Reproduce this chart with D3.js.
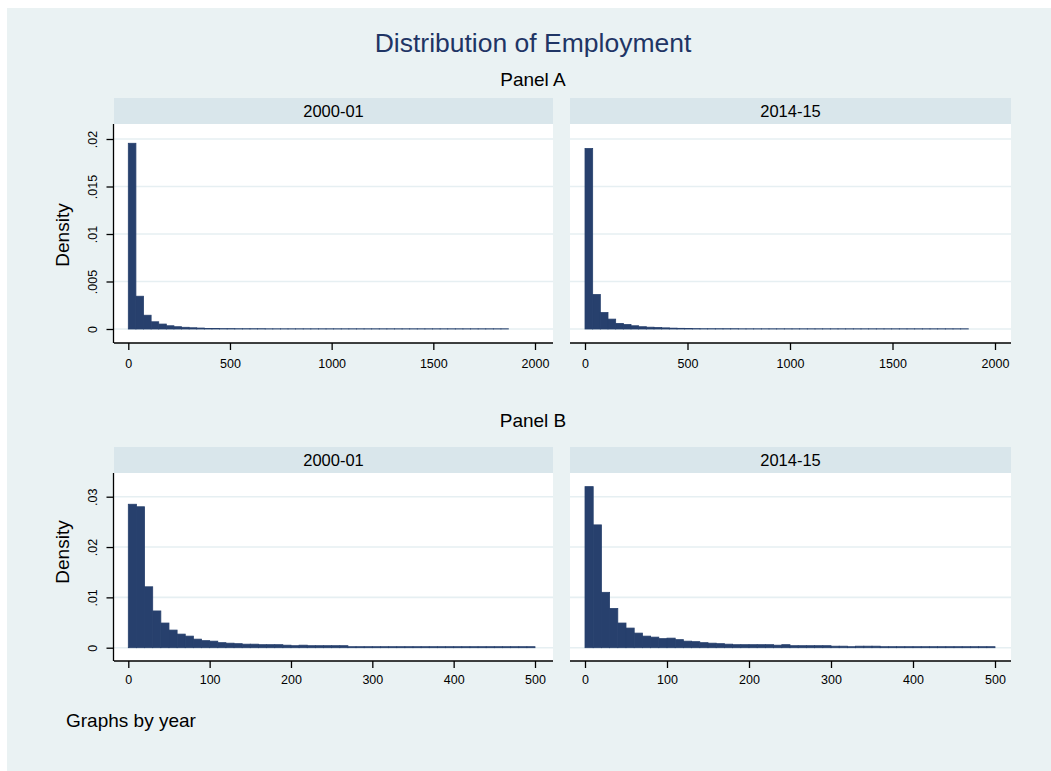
<!DOCTYPE html>
<html>
<head>
<meta charset="utf-8">
<script src="https://cdn.jsdelivr.net/npm/d3@7"></script>
<style>
  body { margin: 0; background: #ffffff; }
  svg { display: block; }
  text { font-family: "Liberation Sans", Arial, sans-serif; }
</style>
</head>
<body>
<svg id="chart" width="1051" height="771"></svg>
<script>
// ---- data -------------------------------------------------------------
const years = ["2000-01", "2014-15"];

// Panel A: full employment range, 50 bins
const panelABinWidth = 37.4;
const panelAXTicks = [0, 500, 1000, 1500, 2000];
const panelAYTicks = [0, 0.005, 0.01, 0.015, 0.02];
const panelAYLabels = ["0", ".005", ".01", ".015", ".02"];
const panelA2000 = [
  0.01955, 0.00345, 0.00145, 0.00076, 0.00052, 0.00034, 0.00024, 0.00018, 0.00013, 0.00010,
  0.00006, 0.00005, 0.00004, 0.00004, 0.00003, 0.00003, 0.00003, 0.00003, 0.00002, 0.00002,
  0.00002, 0.00002, 0.00002, 0.00002, 0.00002, 0.00002, 0.00002, 0.00002, 0.00002, 0.00002,
  0.00002, 0.00002, 0.00002, 0.00002, 0.00002, 0.00002, 0.00002, 0.00002, 0.00002, 0.00002,
  0.00002, 0.00002, 0.00002, 0.00002, 0.00002, 0.00002, 0.00002, 0.00002, 0.00002, 0.00002
];
const panelA2014 = [
  0.01900, 0.00363, 0.00173, 0.00104, 0.00059, 0.00047, 0.00034, 0.00024, 0.00019, 0.00016,
  0.00012, 0.00009, 0.00007, 0.00005, 0.00004, 0.00003, 0.00003, 0.00003, 0.00003, 0.00003,
  0.00002, 0.00002, 0.00002, 0.00002, 0.00002, 0.00002, 0.00002, 0.00002, 0.00002, 0.00002,
  0.00002, 0.00002, 0.00002, 0.00002, 0.00002, 0.00002, 0.00002, 0.00002, 0.00002, 0.00002,
  0.00002, 0.00002, 0.00002, 0.00002, 0.00002, 0.00002, 0.00002, 0.00002, 0.00002, 0.00002
];

// Panel B: employment up to 500, bins of 10
const panelBBinWidth = 10;
const panelBXTicks = [0, 100, 200, 300, 400, 500];
const panelBYTicks = [0, 0.01, 0.02, 0.03];
const panelBYLabels = ["0", ".01", ".02", ".03"];
const panelB2000 = [
  0.0285, 0.0280, 0.0121, 0.0073, 0.0049, 0.0035, 0.0027, 0.0023, 0.0017, 0.0014,
  0.0013, 0.0010, 0.0009, 0.0008, 0.0007, 0.0007, 0.0006, 0.0006, 0.0006, 0.0005,
  0.0004, 0.0005, 0.0004, 0.0004, 0.0004, 0.0004, 0.0004, 0.0002, 0.0002, 0.0002,
  0.0002, 0.0002, 0.0002, 0.0002, 0.0002, 0.0002, 0.0002, 0.0002, 0.0002, 0.0002,
  0.0002, 0.0002, 0.0002, 0.0002, 0.0002, 0.0002, 0.0002, 0.0002, 0.0002, 0.0002
];
const panelB2014 = [
  0.0320, 0.0244, 0.0110, 0.0078, 0.0049, 0.0039, 0.0029, 0.0023, 0.0021, 0.0018,
  0.0019, 0.0016, 0.0013, 0.0012, 0.0010, 0.0009, 0.0008, 0.0007, 0.0006, 0.0006,
  0.0006, 0.0006, 0.0006, 0.0005, 0.0006, 0.0004, 0.0004, 0.0004, 0.0004, 0.0004,
  0.0003, 0.0003, 0.0002, 0.0003, 0.0003, 0.0003, 0.0002, 0.0002, 0.0002, 0.0002,
  0.0002, 0.0002, 0.0002, 0.0002, 0.0002, 0.0002, 0.0002, 0.0002, 0.0002, 0.0002
];

// ---- styling ----------------------------------------------------------
const BG = "#eaf2f3";
const STRIP = "#d9e6eb";
const GRID = "#e6eff2";
const BAR = "#27406d";
const TITLE = "#1f3565";

const svg = d3.select("#chart");

svg.append("rect")
  .attr("x", 7).attr("y", 8).attr("width", 1044).attr("height", 763)
  .attr("fill", BG);

svg.append("text")
  .attr("x", 533).attr("y", 43)
  .attr("text-anchor", "middle").attr("dominant-baseline", "central")
  .attr("font-size", 26.5).attr("fill", TITLE)
  .text("Distribution of Employment");

// column geometry (plot region and scale range)
const columns = [
  { x0: 114, x1: 553, r0: 128.3, r1: 535 },
  { x0: 570, x1: 1011, r0: 585, r1: 995 }
];

const rows = [
  {
    label: "Panel A", labelY: 79,
    stripTop: 98, plotTop: 124, plotBottom: 343,
    yRange: [329, 139], yMax: 0.02,
    xMax: 2000, xTicks: panelAXTicks,
    yTicks: panelAYTicks, yLabels: panelAYLabels,
    binWidth: panelABinWidth, series: [panelA2000, panelA2014],
    densityY: 235, tickPad: 9
  },
  {
    label: "Panel B", labelY: 420,
    stripTop: 447, plotTop: 473, plotBottom: 661,
    yRange: [647.7, 496.7], yMax: 0.03,
    xMax: 500, xTicks: panelBXTicks,
    yTicks: panelBYTicks, yLabels: panelBYLabels,
    binWidth: panelBBinWidth, series: [panelB2000, panelB2014],
    densityY: 552, tickPad: 7
  }
];

rows.forEach(row => {
  svg.append("text")
    .attr("x", 533).attr("y", row.labelY)
    .attr("text-anchor", "middle").attr("dominant-baseline", "central")
    .attr("font-size", 19).attr("fill", "#000")
    .text(row.label);

  svg.append("text")
    .attr("transform", `translate(62,${row.densityY}) rotate(-90)`)
    .attr("text-anchor", "middle").attr("dominant-baseline", "central")
    .attr("font-size", 19).attr("fill", "#000")
    .text("Density");

  const y = d3.scaleLinear().domain([0, row.yMax]).range(row.yRange);

  columns.forEach((col, ci) => {
    const g = svg.append("g");
    const x = d3.scaleLinear().domain([0, row.xMax]).range([col.r0, col.r1]);

    // strip with year label
    g.append("rect")
      .attr("x", col.x0).attr("y", row.stripTop)
      .attr("width", col.x1 - col.x0).attr("height", row.plotTop - row.stripTop)
      .attr("fill", STRIP);
    g.append("text")
      .attr("x", (col.x0 + col.x1) / 2).attr("y", (row.stripTop + row.plotTop) / 2)
      .attr("text-anchor", "middle").attr("dominant-baseline", "central")
      .attr("font-size", 16.5).attr("fill", "#000")
      .text(years[ci]);

    // plot region
    g.append("rect")
      .attr("x", col.x0).attr("y", row.plotTop)
      .attr("width", col.x1 - col.x0).attr("height", row.plotBottom - row.plotTop)
      .attr("fill", "#fff");

    // horizontal grid
    g.selectAll("line.grid").data(row.yTicks).join("line")
      .attr("class", "grid")
      .attr("x1", col.x0).attr("x2", col.x1)
      .attr("y1", d => y(d)).attr("y2", d => y(d))
      .attr("stroke", GRID).attr("stroke-width", 1.6);

    // histogram bars
    const bins = row.series[ci].map((v, i) => ({
      lo: i * row.binWidth, hi: (i + 1) * row.binWidth, v
    }));
    g.selectAll("rect.bar").data(bins).join("rect")
      .attr("class", "bar")
      .attr("x", d => x(d.lo)).attr("width", d => x(d.hi) - x(d.lo))
      .attr("y", d => y(d.v)).attr("height", d => y(0) - y(d.v))
      .attr("fill", BAR).attr("stroke", BAR).attr("stroke-width", 0.8);

    // x axis
    const xa = g.append("g")
      .attr("transform", `translate(0,${row.plotBottom})`)
      .call(d3.axisBottom(x).tickValues(row.xTicks).tickSize(7).tickPadding(row.tickPad)
        .tickFormat(d3.format("d")));
    xa.select(".domain").attr("d", `M${col.x0},0H${col.x1}`)
      .attr("stroke", "#000").attr("stroke-width", 1.3);
    xa.selectAll(".tick line").attr("stroke", "#000").attr("stroke-width", 1.3);
    xa.selectAll(".tick text").attr("font-size", 12.5).attr("fill", "#000")
      .attr("font-family", "Liberation Sans, Arial, sans-serif");

    // y axis on the outer column
    if (ci === 0) {
      const ya = g.append("g")
        .attr("transform", `translate(${col.x0 - 0.5},0)`)
        .call(d3.axisLeft(y).tickValues(row.yTicks).tickSize(7)
          .tickFormat((d, i) => row.yLabels[i]));
      ya.select(".domain").attr("d", `M0,${row.plotTop}V${row.plotBottom}`)
        .attr("stroke", "#000").attr("stroke-width", 1.3);
      ya.selectAll(".tick line").attr("stroke", "#000").attr("stroke-width", 1.3);
      ya.selectAll(".tick text")
        .attr("x", null).attr("dy", null)
        .attr("transform", "translate(-21,0) rotate(-90)")
        .attr("text-anchor", "middle").attr("dominant-baseline", "central")
        .attr("font-size", 12.5).attr("fill", "#000")
        .attr("font-family", "Liberation Sans, Arial, sans-serif");
    }
  });
});

svg.append("text")
  .attr("x", 66).attr("y", 720)
  .attr("dominant-baseline", "central")
  .attr("font-size", 19).attr("fill", "#000")
  .text("Graphs by year");
</script>
</body>
</html>
